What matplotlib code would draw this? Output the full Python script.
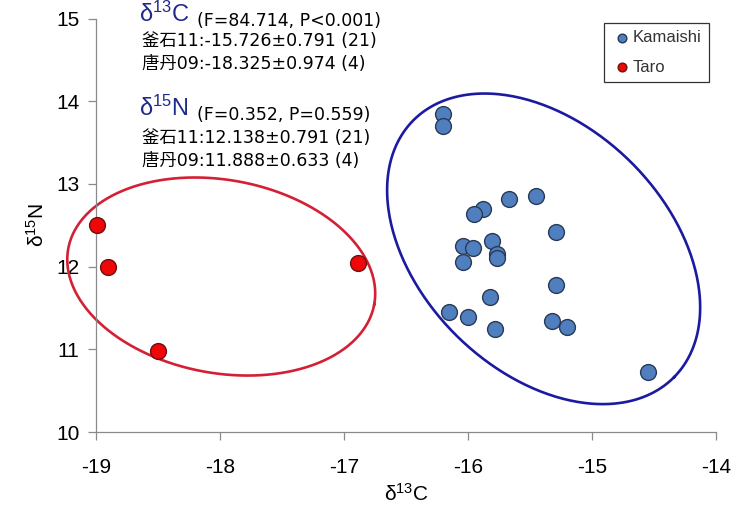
import numpy as np
import matplotlib.pyplot as plt

plt.rcParams['font.family'] = ['Liberation Sans', 'DejaVu Sans', 'Noto Sans CJK JP']
plt.rcParams['mathtext.fontset'] = 'custom'
plt.rcParams['mathtext.rm'] = 'Liberation Sans'
plt.rcParams['mathtext.it'] = 'Liberation Sans'
plt.rcParams['axes.unicode_minus'] = False

# Kamaishi (釜石11) samples
kamaishi_c = [-16.20, -16.20, -15.67, -15.45, -15.88, -15.95, -15.29, -15.81, -16.04, -15.96, -15.77,
              -15.77, -16.04, -15.29, -15.82, -16.15, -16.00, -15.78, -15.32, -15.20, -14.55]
kamaishi_n = [13.85, 13.70, 12.82, 12.85, 12.70, 12.63, 12.42, 12.31, 12.25, 12.22, 12.15,
              12.11, 12.05, 11.78, 11.63, 11.45, 11.39, 11.24, 11.34, 11.27, 10.72]

# Taro (唐丹09) samples
taro_c = [-18.99, -18.90, -16.89, -18.50]
taro_n = [12.50, 12.00, 12.04, 10.98]

x_ticks = [-19, -18, -17, -16, -15, -14]
y_ticks = [10, 11, 12, 13, 14, 15]

# hand drawn ellipses: centre (data), semi axes (px), angle (deg)
red_ellipse = ((-17.99, 11.88), (155.5, 96.6), -10.3)
blue_ellipse = ((-15.39, 12.215), (183, 123), -44.4)

W, H = 734, 507
fig = plt.figure(figsize=(W / 100, H / 100), dpi=100)
ax = fig.add_axes([96 / W, 1 - 432 / H, 620 / W, 413.5 / H])
ax.set_xlim(-19, -14)
ax.set_ylim(10, 15)

ax.scatter(kamaishi_c, kamaishi_n, s=130, color='#4f7fbf', edgecolor='#2a3a55',
           linewidth=1.0, zorder=3, label='Kamaishi')
ax.scatter(taro_c, taro_n, s=130, color='#f00808', edgecolor='#701010',
           linewidth=1.0, zorder=3, label='Taro', clip_on=False)


def draw_ellipse(params, color):
    (cx, cy), (a, b), ang = params
    pos = ax.get_position()
    sx = pos.width * W / 5.0
    sy = pos.height * H / 5.0
    t = np.linspace(0, 2 * np.pi, 400)
    th = np.deg2rad(ang)
    X = a * np.cos(t) * np.cos(th) - b * np.sin(t) * np.sin(th)
    Y = a * np.cos(t) * np.sin(th) + b * np.sin(t) * np.cos(th)
    ax.plot(cx + X / sx, cy + Y / sy, color=color, linewidth=1.9, zorder=2, clip_on=False)


draw_ellipse(red_ellipse, '#d42035')
draw_ellipse(blue_ellipse, '#1c1aa0')

for side in ['top', 'right']:
    ax.spines[side].set_visible(False)
for side in ['left', 'bottom']:
    ax.spines[side].set_color('#8a8a8a')
    ax.spines[side].set_linewidth(0.9)

ax.set_xticks(x_ticks)
ax.set_yticks(y_ticks)
ax.tick_params(axis='both', direction='out', length=6, width=0.9, color='#8a8a8a',
               labelsize=15)
ax.tick_params(axis='x', pad=13)
ax.tick_params(axis='y', pad=6)

ax.set_xlabel(r'δ$^{13}$C', fontsize=15, labelpad=4)
ax.set_ylabel(r'δ$^{15}$N', fontsize=15, labelpad=6)

leg = ax.legend(loc='upper right', bbox_to_anchor=(709 / W, 1 - 23 / H),
                bbox_transform=fig.transFigure, frameon=True, fancybox=False,
                fontsize=12, markerscale=0.55, handletextpad=0.05,
                handlelength=1.2, borderpad=0.45, labelspacing=0.85, borderaxespad=0)
leg.get_frame().set_edgecolor('black')
leg.get_frame().set_linewidth(0.9)
for txt in leg.get_texts():
    txt.set_color('#333333')

# statistics text
navy = '#1f2a8a'
stat_font = ['DejaVu Sans', 'Noto Sans CJK JP']
fig.text(139 / W, 1 - 22 / H, r'δ$^{13}$C', fontsize=17, color=navy, va='baseline')
fig.text(197 / W, 1 - 26.5 / H, '(F=84.714, P<0.001)', fontsize=12.5, va='baseline', family=stat_font)
fig.text(142 / W, 1 - 46.5 / H, '釜石11:-15.726±0.791 (21)', fontsize=12.5, va='baseline', family=stat_font)
fig.text(142 / W, 1 - 69 / H, '唐丹09:-18.325±0.974 (4)', fontsize=12.5, va='baseline', family=stat_font)
fig.text(139 / W, 1 - 116 / H, r'δ$^{15}$N', fontsize=17, color=navy, va='baseline')
fig.text(197 / W, 1 - 120 / H, '(F=0.352, P=0.559)', fontsize=12.5, va='baseline', family=stat_font)
fig.text(142 / W, 1 - 143 / H, '釜石11:12.138±0.791 (21)', fontsize=12.5, va='baseline', family=stat_font)
fig.text(142 / W, 1 - 166.5 / H, '唐丹09:11.888±0.633 (4)', fontsize=12.5, va='baseline', family=stat_font)

fig.savefig('out.png', dpi=100)
